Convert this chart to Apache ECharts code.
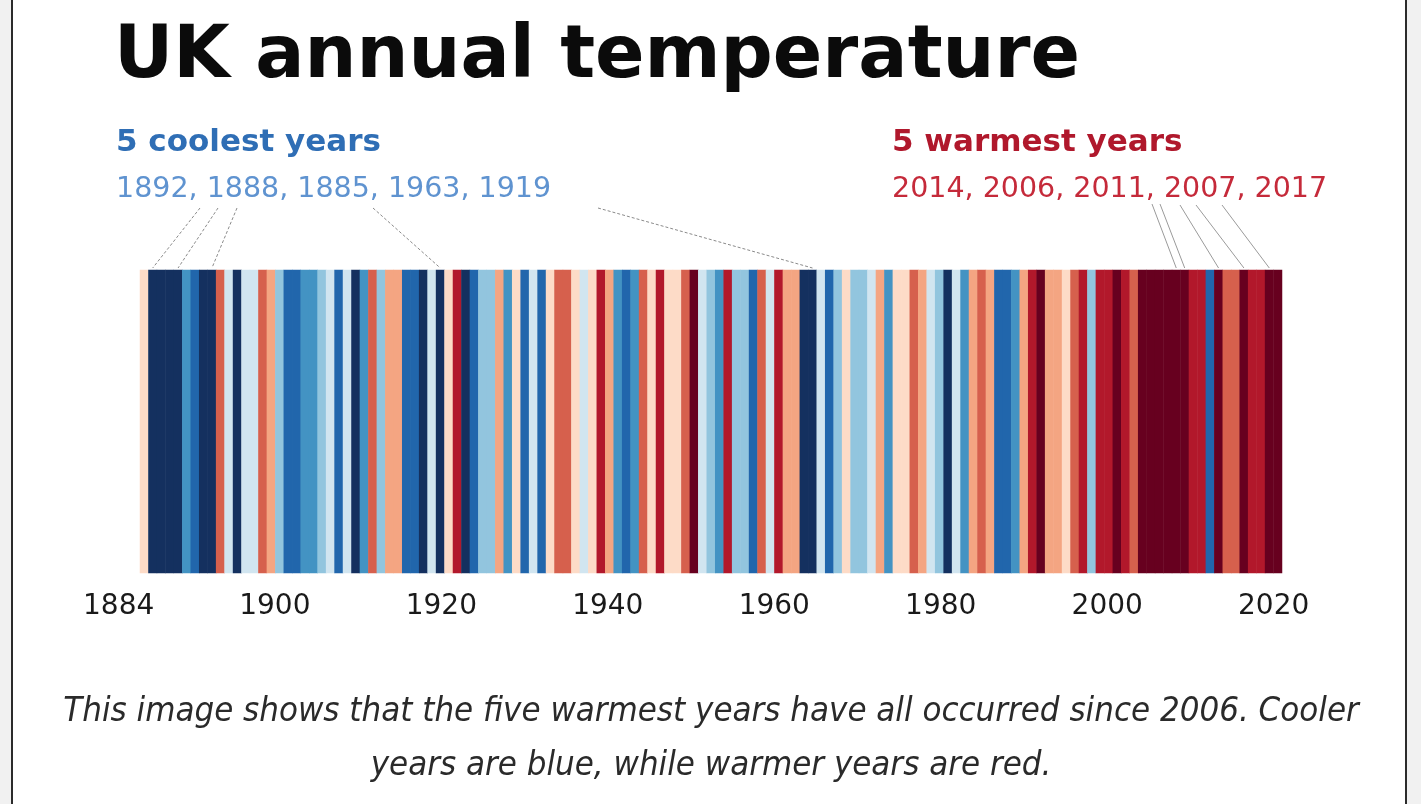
<!DOCTYPE html>
<html>
<head>
<meta charset="utf-8">
<title>UK annual temperature</title>
<script src="https://cdn.jsdelivr.net/npm/echarts@6/dist/echarts.min.js"></script>
<style>
  html, body { margin: 0; padding: 0; background: #f1f1f1; }
  #frame { position: absolute; left: 11px; top: 0; width: 1396px; height: 804px; background: #fff;
           border-left: 2px solid #2b2b2b; border-right: 2px solid #2b2b2b; box-sizing: border-box; }
  #main { position: absolute; left: 0; top: 0; width: 1421px; height: 804px; }
</style>
</head>
<body>
<div id="frame"></div>
<div id="main"></div>
<script>
// years shown as stripes
const firstYear = 1884;
const lastYear = 2018;
const years = [];
for (let y = firstYear; y <= lastYear; y++) years.push(String(y));

// colour class per year, -5 (coldest) .. 5 (warmest)
const levels = [
  1, -5, -5, -5, -5, -3,                      // 1884-1889
  -4, -5, -5, 3, -1, -5, -1, -1, 3, 2,        // 1890s
  -2, -4, -4, -3, -3, -2, -1, -4, -1, -5,     // 1900s
  -3, 3, -2, 2, 2, -4, -4, -5, -1, -5,        // 1910s
  1, 4, -5, -4, -2, -2, 2, -3, 1, -4,         // 1920s
  -1, -4, 1, 3, 3, 1, -1, 1, 4, 2,            // 1930s
  -3, -4, -3, 3, 1, 4, 1, 1, 3, 5,            // 1940s
  -1, -2, -3, 4, -2, -2, -4, 3, -1, 4,        // 1950s
  2, 2, -5, -5, -1, -4, -2, 1, -2, -2,        // 1960s
  -1, 2, -3, 1, 1, 3, 2, -1, -2, -5,          // 1970s
  -1, -3, 2, 3, 2, -4, -4, -3, 2, 4,          // 1980s
  5, 2, 2, 1, 3, 4, -2, 4, 4, 5,              // 1990s
  4, 3, 5, 5, 5, 5, 5, 5, 4, 4,               // 2000s
  -4, 5, 3, 3, 5, 4, 4, 5, 5                  // 2010-2018
];

const levelColors = {
  '-5': '#14305f', '-4': '#2166ac', '-3': '#4393c3', '-2': '#92c5de', '-1': '#d1e5f0',
  '1': '#fddbc7', '2': '#f4a582', '3': '#d6604d', '4': '#b2182b', '5': '#67001f'
};

const coolest = [1892, 1888, 1885, 1963, 1919];
const warmest = [2014, 2006, 2011, 2007, 2017];
const tickYears = [1884, 1900, 1920, 1940, 1960, 1980, 2000, 2020];

// where each leader line leaves the text
const coolLeaderTop = { 1885: [200, 208], 1888: [218, 208], 1892: [237, 208], 1919: [373, 208], 1963: [598, 208] };
const warmLeaderTop = { 2006: [1152, 204], 2007: [1160, 204], 2011: [1180, 205], 2014: [1196, 205], 2017: [1222, 205] };

const chart = echarts.init(document.getElementById('main'));

const gridTop = 270;

chart.setOption({
  backgroundColor: 'transparent',
  animation: false,
  title: {
    text: 'UK annual temperature',
    left: 109,
    top: 17,
    textStyle: { fontFamily: 'DejaVu Sans', fontWeight: 'bold', fontSize: 73, color: '#0b0b0b' }
  },
  grid: { left: 140, right: 139, top: gridTop, bottom: 231 },
  xAxis: [
    { type: 'category', data: years, show: false },
    {
      type: 'value',
      min: 1883.8,
      max: 2021,
      position: 'bottom',
      axisLine: { show: false },
      axisTick: { show: false },
      splitLine: { show: false },
      axisLabel: {
        customValues: tickYears,
        margin: 20,
        hideOverlap: false,
        fontFamily: 'DejaVu Sans',
        fontSize: 28,
        color: '#1a1a1a',
        formatter: v => (v === 1884 ? '{a|1884}' : String(v)),
        rich: { a: { fontFamily: 'DejaVu Sans', fontSize: 28, color: '#1a1a1a', padding: [0, 46, 0, 0] } }
      }
    }
  ],
  yAxis: { type: 'category', data: [''], show: false },
  visualMap: {
    type: 'piecewise',
    show: false,
    dimension: 2,
    seriesIndex: 0,
    pieces: Object.keys(levelColors).map(k => ({ value: Number(k), color: levelColors[k] }))
  },
  series: [{
    type: 'heatmap',
    xAxisIndex: 0,
    data: levels.map((v, i) => [i, 0, v]),
    itemStyle: { borderWidth: 0 },
    emphasis: { disabled: true }
  }]
});

// leader lines from the year lists down to their stripes
function leader(year, top, dashed) {
  const x = chart.convertToPixel({ xAxisIndex: 0 }, String(year));
  return {
    type: 'line',
    shape: { x1: top[0], y1: top[1], x2: x, y2: gridTop - 2 },
    style: { stroke: dashed ? '#8a8a8a' : '#9a9a9a', lineWidth: 1, lineDash: dashed ? [3, 2] : null }
  };
}

const elements = [];
coolest.forEach(y => elements.push(leader(y, coolLeaderTop[y], true)));
warmest.forEach(y => elements.push(leader(y, warmLeaderTop[y], false)));

const captionFont = 'italic 34.5px "Liberation Sans Narrow", "DejaVu Sans Condensed"';

elements.push(
  { type: 'text', style: { x: 116, y: 143, text: '5 coolest years', fill: '#2f6eb5',
      font: 'bold 31px "DejaVu Sans"', textVerticalAlign: 'middle' } },
  { type: 'text', style: { x: 116, y: 190, text: coolest.join(', '), fill: '#5f93d0',
      font: '28.5px "DejaVu Sans"', textVerticalAlign: 'middle' } },
  { type: 'text', style: { x: 892, y: 143, text: '5 warmest years', fill: '#b0182c',
      font: 'bold 31px "DejaVu Sans"', textVerticalAlign: 'middle' } },
  { type: 'text', style: { x: 892, y: 190, text: warmest.join(', '), fill: '#c52a3a',
      font: '28.5px "DejaVu Sans"', textVerticalAlign: 'middle' } },
  { type: 'text', style: { x: 711, y: 712, text: 'This image shows that the five warmest years have all occurred since 2006. Cooler',
      fill: '#2a2a2a', font: captionFont, textAlign: 'center', textVerticalAlign: 'middle' } },
  { type: 'text', style: { x: 711, y: 766, text: 'years are blue, while warmer years are red.',
      fill: '#2a2a2a', font: captionFont, textAlign: 'center', textVerticalAlign: 'middle' } }
);

chart.setOption({ graphic: { elements: elements } });
</script>
</body>
</html>
